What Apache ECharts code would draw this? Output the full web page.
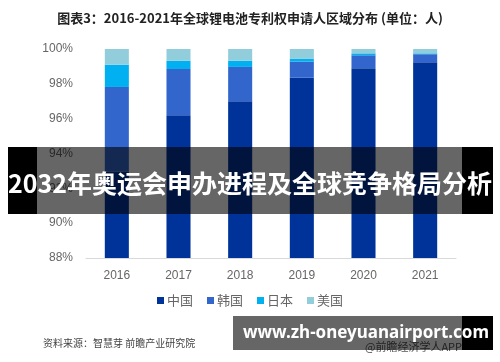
<!DOCTYPE html>
<html><head><meta charset="utf-8">
<script src="https://cdn.jsdelivr.net/npm/echarts@6/dist/echarts.min.js"></script>
<style>html,body{margin:0;padding:0;background:#fff}#c{width:500px;height:362px}</style>
</head><body><div id="c"></div>
<script>
var years = ['2016','2017','2018','2019','2020','2021'];
var china = [92.97, 96.2, 97.0, 98.35, 98.9, 99.24];
var korea = [4.85, 2.65, 1.97, 0.92, 0.74, 0.46];
var japan = [1.28, 0.48, 0.36, 0.16, 0.11, 0.05];
var usa   = [0.90, 0.67, 0.67, 0.57, 0.25, 0.25];
var yTicks = [88, 90, 92, 94, 96, 98, 100];
var names = ['中国','韩国','日本','美国'];
var colors = ['#003399','#3366cc','#00b0f0','#92cddc'];
var title = '图表3：2016-2021年全球锂电池专利权申请人区域分布 (单位：人)';
var source = '资料来源：智慧芽 前瞻产业研究院';
var banner = '2032年奥运会申办进程及全球竞争格局分析';
var url = 'www.zh-oneyuanairport.com';
var credit = '@前瞻经济学人APP';

var chart = echarts.init(document.getElementById('c'));
var font = '"Noto Sans CJK SC","Noto Sans",sans-serif';
var data = [china, korea, japan, usa];
chart.setOption({
  animation: false,
  textStyle: {fontFamily: font},
  title: {text: title, left: 'center', top: 7,
    textStyle: {fontSize: 13, fontWeight: 'bold', color: '#222', fontFamily: font}},
  grid: {left: 86, right: 44, top: 49, bottom: 104},
  legend: {bottom: 50, left: 'center', itemWidth: 7, itemHeight: 7, itemGap: 14,
    icon: 'rect', textStyle: {fontSize: 13, color: '#666', padding: [0,0,0,-2]},
    data: names},
  xAxis: {type: 'category', data: years,
    axisLine: {lineStyle: {color: '#d9d9d9'}}, axisTick: {show: false},
    axisLabel: {color: '#666', fontSize: 12, margin: 12, fontFamily: 'Arial, "Liberation Sans", sans-serif'}},
  yAxis: {type: 'value', min: 88, max: 100, interval: 2,
    axisLine: {show: false}, axisTick: {show: false}, splitLine: {show: false},
    axisLabel: {color: '#666', fontSize: 12, margin: 13, formatter: '{value}%', fontFamily: 'Arial, "Liberation Sans", sans-serif'}},
  series: names.map(function(n, i){
    return {name: n, type: 'bar', stack: 'a', barWidth: '39%', data: data[i],
      itemStyle: {color: colors[i]}};
  }),
  graphic: [
    {type: 'rect', shape: {x: 8, y: 147, width: 29, height: 67}, style: {fill: '#000'}, z: 100},
    {type: 'rect', shape: {x: 37, y: 147, width: 425, height: 67}, style: {fill: 'rgba(0,0,0,0.6)'}, z: 100},
    {type: 'rect', shape: {x: 462, y: 147, width: 31, height: 67}, style: {fill: '#000'}, z: 100},
    {type: 'text', x: 250, y: 183, style: {text: banner, fill: '#fff', font: 'bold 25px ' + font, align: 'center', verticalAlign: 'middle'}, z: 101},
    {type: 'text', x: 43, y: 343, style: {text: source, fill: '#444', font: '10px ' + font, align: 'left', verticalAlign: 'middle'}, z: 90},
    {type: 'text', x: 462, y: 347, style: {text: credit, fill: '#555', font: '11px ' + font, align: 'right', verticalAlign: 'middle'}, z: 90},
    {type: 'rect', shape: {x: 233, y: 316, width: 229, height: 34}, style: {fill: 'rgba(0,0,0,0.6)'}, z: 100},
    {type: 'rect', shape: {x: 462, y: 316, width: 31, height: 34}, style: {fill: '#000'}, z: 100},
    {type: 'text', x: 366, y: 333, style: {text: url, fill: '#fff', font: 'bold 17px "Noto Sans", sans-serif', align: 'center', verticalAlign: 'middle'}, z: 101}
  ]
});
</script></body></html>
